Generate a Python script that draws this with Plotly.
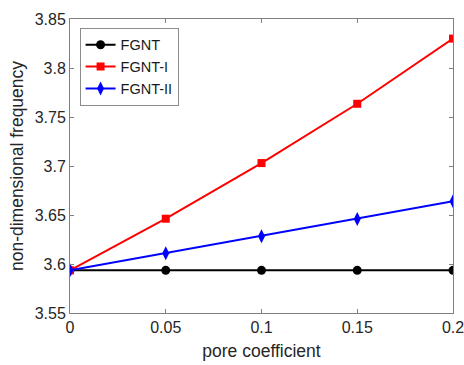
import plotly.graph_objects as go

x_vals = [0, 0.05, 0.1, 0.15, 0.2]
fgnt = [3.5935, 3.5935, 3.5935, 3.5935, 3.5935]
fgnt_i = [3.5935, 3.6462, 3.7030, 3.7635, 3.8300]
fgnt_ii = [3.5935, 3.6110, 3.6283, 3.6460, 3.6640]

x_ticks = [0, 0.05, 0.1, 0.15, 0.2]
x_tick_text = ["0", "0.05", "0.1", "0.15", "0.2"]
y_ticks = [3.55, 3.6, 3.65, 3.7, 3.75, 3.8, 3.85]
y_tick_text = ["3.55", "3.6", "3.65", "3.7", "3.75", "3.8", "3.85"]

fig = go.Figure()
fig.add_trace(go.Scatter(x=x_vals, y=fgnt, mode="lines+markers", name="FGNT",
                         line=dict(color="black", width=2),
                         marker=dict(symbol="circle", size=9, color="black")))
fig.add_trace(go.Scatter(x=x_vals, y=fgnt_i, mode="lines+markers", name="FGNT-I",
                         line=dict(color="#ff0000", width=2),
                         marker=dict(symbol="square", size=8, color="#ff0000")))
fig.add_trace(go.Scatter(x=x_vals, y=fgnt_ii, mode="lines+markers", name="FGNT-II",
                         line=dict(color="#0000ff", width=2),
                         marker=dict(symbol="diamond-tall", size=10, color="#0000ff")))

axis_common = dict(showgrid=False, zeroline=False, showline=True, linecolor="#808080",
                   linewidth=1, mirror="ticks", ticks="inside", ticklen=4,
                   tickcolor="#808080", ticklabeloverflow="allow", automargin=False,
                   tickfont=dict(family="Liberation Sans", size=16, color="#262626"))

fig.update_layout(
    width=464, height=365,
    margin=dict(l=70, r=11, t=19, b=52),
    paper_bgcolor="white", plot_bgcolor="white",
    font=dict(family="Liberation Sans", size=16, color="#262626"),
    xaxis=dict(range=[0, 0.2], tickvals=x_ticks, ticktext=x_tick_text,
               title=dict(text="pore coefficient", font=dict(size=17.5), standoff=9), **axis_common),
    yaxis=dict(range=[3.55, 3.85], tickvals=y_ticks, ticktext=y_tick_text,
               title=dict(text="non-dimensional frequency", font=dict(size=17.5), standoff=6), **axis_common),
    legend=dict(x=0.025, y=0.97, xanchor="left", yanchor="top", bgcolor="white",
                bordercolor="#8c8c8c", borderwidth=1, font=dict(size=14.5, color="#1a1a1a"),
                tracegroupgap=0, itemwidth=30),
    showlegend=True,
)

fig.write_html("out.html")
